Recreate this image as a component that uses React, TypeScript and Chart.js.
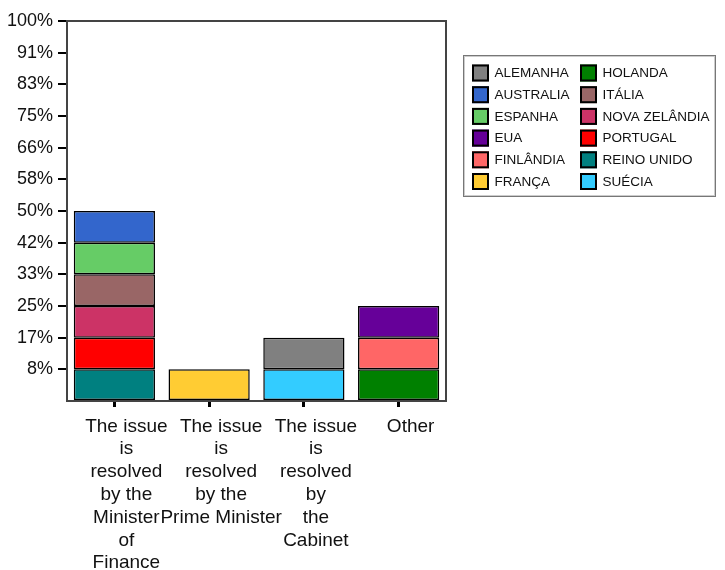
import React, { useEffect, useRef } from "react";
import { Chart, registerables } from "chart.js";

Chart.register(...registerables);

const categories: string[][] = [
  ["The issue", "is", "resolved", "by the", "Minister", "of", "Finance"],
  ["The issue", "is", "resolved", "by the", "Prime Minister"],
  ["The issue", "is", "resolved", "by", "the", "Cabinet"],
  ["Other"],
];

// share (%) of each country per category
const alemanha = [null, null, 8.333, null];
const australia = [8.333, null, null, null];
const espanha = [8.333, null, null, null];
const eua = [null, null, null, 8.333];
const finlandia = [null, null, null, 8.333];
const franca = [null, 8.333, null, null];
const holanda = [null, null, null, 8.333];
const italia = [8.333, null, null, null];
const novaZelandia = [8.333, null, null, null];
const portugal = [8.333, null, null, null];
const reinoUnido = [8.333, null, null, null];
const suecia = [null, null, 8.333, null];

const yTickValues = [0, 8.333, 16.667, 25, 33.333, 41.667, 50, 58.333, 66.667, 75, 83.333, 91.667, 100];
const yTickLabels = ["", "8%", "17%", "25%", "33%", "42%", "50%", "58%", "66%", "75%", "83%", "91%", "100%"];

// legend order (alphabetical)
const legendNames = [
  "ALEMANHA", "AUSTRALIA", "ESPANHA", "EUA", "FINLÂNDIA", "FRANÇA",
  "HOLANDA", "ITÁLIA", "NOVA ZELÂNDIA", "PORTUGAL", "REINO UNIDO", "SUÉCIA",
];
const legendColors = [
  "#808080", "#3366CC", "#66CC66", "#660099", "#FF6666", "#FFCC33",
  "#008000", "#996666", "#CC3366", "#FF0000", "#008080", "#33CCFF",
];
const legendValues = [
  alemanha, australia, espanha, eua, finlandia, franca,
  holanda, italia, novaZelandia, portugal, reinoUnido, suecia,
];

const FONT = "'Liberation Sans', Arial, Helvetica, sans-serif";

const framePlugin = {
  id: "frame",
  afterDatasetsDraw(chart: any) {
    const { ctx, chartArea } = chart;
    ctx.save();
    ctx.strokeStyle = "#444444";
    ctx.lineWidth = 2;
    ctx.strokeRect(chartArea.left, chartArea.top, chartArea.right - chartArea.left, chartArea.bottom - chartArea.top);
    ctx.restore();
  },
};

const legendPlugin = {
  id: "customLegend",
  afterDraw(chart: any) {
    const ctx = chart.ctx;
    ctx.save();
    ctx.strokeStyle = "#777777";
    ctx.lineWidth = 1;
    ctx.strokeRect(463.5, 55.5, 252, 141);
    ctx.strokeStyle = "#cccccc";
    ctx.strokeRect(464.5, 56.5, 250, 139);
    ctx.font = `13.5px ${FONT}`;
    ctx.textBaseline = "middle";
    ctx.textAlign = "left";
    legendNames.forEach((name, i) => {
      const col = Math.floor(i / 6);
      const row = i % 6;
      const sx = col === 0 ? 472 : 580;
      const tx = col === 0 ? 494.5 : 602.5;
      const sy = 64.5 + row * 21.7;
      ctx.fillStyle = legendColors[i];
      ctx.fillRect(sx, sy, 17, 17);
      ctx.strokeStyle = "#000000";
      ctx.lineWidth = 2;
      ctx.strokeRect(sx + 1, sy + 1, 15, 15);
      ctx.fillStyle = "#111111";
      ctx.fillText(name, tx, sy + 9);
    });
    ctx.restore();
  },
};

export default function App() {
  const canvasRef = useRef<HTMLCanvasElement | null>(null);

  useEffect(() => {
    if (!canvasRef.current) return;
    // stacking order bottom -> top is reverse alphabetical
    const order = legendNames.map((_, i) => i).reverse();
    const datasets = order.map((i) => ({
      label: legendNames[i],
      data: legendValues[i],
      backgroundColor: legendColors[i],
      borderColor: "#000000",
      borderWidth: 1.5,
      borderSkipped: false,
      categoryPercentage: 1,
      barPercentage: 0.857,
    }));

    const chart = new Chart(canvasRef.current, {
      type: "bar",
      data: { labels: categories, datasets: datasets as any },
      plugins: [framePlugin, legendPlugin],
      options: {
        animation: false,
        responsive: true,
        maintainAspectRatio: false,
        layout: { padding: { top: 21, right: 279, bottom: 0, left: 0 } },
        plugins: {
          legend: { display: false },
          tooltip: { enabled: false },
          title: { display: false },
        },
        scales: {
          x: {
            stacked: true,
            offset: true,
            border: { display: false },
            grid: {
              display: true,
              drawOnChartArea: false,
              drawTicks: true,
              offset: false,
              tickLength: 6,
              lineWidth: 3,
              color: "#000000",
            },
            ticks: {
              autoSkip: false,
              maxRotation: 0,
              minRotation: 0,
              padding: 8,
              labelOffset: 12,
              color: "#111111",
              font: { family: FONT, size: 19, lineHeight: 1.2 },
            },
            afterFit(scale: any) {
              scale.height = 169;
            },
          },
          y: {
            stacked: true,
            min: 0,
            max: 100,
            border: { display: false },
            grid: {
              display: true,
              drawOnChartArea: false,
              drawTicks: true,
              tickLength: 9,
              lineWidth: 2,
              color: (c: any) => (c.index === 0 ? "rgba(0,0,0,0)" : "#000000"),
            },
            afterBuildTicks(scale: any) {
              scale.ticks = yTickValues.map((v) => ({ value: v }));
            },
            ticks: {
              padding: 5,
              color: "#111111",
              font: { family: FONT, size: 18 },
              callback: (_v: any, index: number) => yTickLabels[index],
            },
            afterFit(scale: any) {
              scale.width = 67;
            },
          },
        },
      },
    });
    return () => chart.destroy();
  }, []);

  return (
    <div style={{ position: "fixed", left: 0, top: 0, width: 725, height: 570, background: "#ffffff" }}>
      <canvas ref={canvasRef} />
    </div>
  );
}
